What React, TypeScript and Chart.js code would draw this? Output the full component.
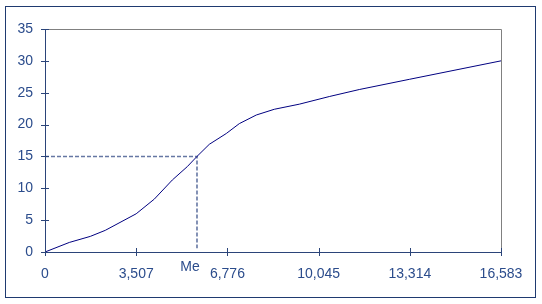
import React, { useEffect, useRef } from "react";
import { Chart, registerables } from "chart.js";

Chart.register(...registerables);

// X axis: tick positions (data units) and their printed labels
const tickValues = [238, 3507, 6776, 10045, 13314, 16583];
const tickLabels = ["0", "3,507", "6,776", "10,045", "13,314", "16,583"];
// Y axis ticks
const yTickValues = [0, 5, 10, 15, 20, 25, 30, 35];

// Cumulative curve (ogive)
const curveX = [238, 1109, 1862, 2399, 3507, 4156, 4801, 5339, 5686, 6127, 6737, 7203, 7812, 8457, 9353, 10428, 11504, 13296, 16583];
const curveY = [0, 1.5, 2.45, 3.4, 6.0, 8.3, 11.3, 13.4, 15.0, 16.9, 18.6, 20.15, 21.5, 22.4, 23.2, 24.4, 25.5, 27.1, 30];

// Median guide
const medianX = 5686;
const medianY = 15;
const medianLabel = "Me";

const AXIS = "#2B4479";
const TEXT = "#2B4C8C";
const FONT = "'Liberation Sans', Arial, sans-serif";

const decorPlugin = {
  id: "decor",
  afterDraw(chart: any) {
    const { ctx, chartArea } = chart;
    const xs = chart.scales.x;
    const ys = chart.scales.y;
    const L = chartArea.left, R = chartArea.right, T = chartArea.top, B = chartArea.bottom;
    ctx.save();
    // outer frame
    ctx.strokeStyle = "#1F3A70";
    ctx.lineWidth = 1;
    ctx.strokeRect(5.5, 6.5, 530, 291);
    // top/right gray border
    ctx.strokeStyle = "#808080";
    ctx.beginPath();
    ctx.moveTo(L + 0.5, T + 0.5);
    ctx.lineTo(R + 0.5, T + 0.5);
    ctx.lineTo(R + 0.5, B + 0.5);
    ctx.stroke();
    // axes
    ctx.strokeStyle = AXIS;
    ctx.beginPath();
    ctx.moveTo(L + 0.5, T + 0.5);
    ctx.lineTo(L + 0.5, B + 0.5);
    ctx.lineTo(R + 0.5, B + 0.5);
    ctx.stroke();
    // ticks (crossing)
    ctx.beginPath();
    yTickValues.forEach((v) => {
      const y = Math.round(ys.getPixelForValue(v)) + 0.5;
      ctx.moveTo(L - 4, y);
      ctx.lineTo(L + 4, y);
    });
    tickValues.forEach((v) => {
      const x = Math.round(xs.getPixelForValue(v)) + 0.5;
      ctx.moveTo(x, B - 4);
      ctx.lineTo(x, B + 4);
    });
    ctx.stroke();
    // median label
    ctx.fillStyle = TEXT;
    ctx.font = `14px ${FONT}`;
    ctx.textAlign = "center";
    ctx.textBaseline = "middle";
    ctx.fillText(medianLabel, xs.getPixelForValue(medianX) - 7, B + 15);
    ctx.restore();
  },
};

export default function App() {
  const ref = useRef<HTMLCanvasElement | null>(null);
  useEffect(() => {
    if (!ref.current) return;
    const chart = new Chart(ref.current, {
      type: "line",
      data: {
        datasets: [
          {
            data: curveX.map((x, i) => ({ x, y: curveY[i] })),
            borderColor: "#000080",
            borderWidth: 1,
            pointRadius: 0,
            tension: 0,
            fill: false,
          },
          {
            data: [
              { x: tickValues[0], y: medianY },
              { x: medianX, y: medianY },
              { x: medianX, y: 0.6 },
            ],
            borderColor: "#6677A3",
            borderWidth: 1.6,
            borderDash: [4, 2],
            pointRadius: 0,
            tension: 0,
            fill: false,
          },
        ],
      },
      options: {
        animation: false,
        responsive: false,
        events: [],
        layout: { padding: { left: 0, top: 29, right: 41, bottom: 0 } },
        plugins: { legend: { display: false }, tooltip: { enabled: false } },
        scales: {
          x: {
            type: "linear",
            min: tickValues[0],
            max: tickValues[tickValues.length - 1],
            afterBuildTicks: (s: any) => {
              s.ticks = tickValues.map((v) => ({ value: v }));
            },
            afterFit: (s: any) => {
              s.height = 52;
            },
            grid: { display: false, drawTicks: false },
            border: { display: false },
            ticks: {
              autoSkip: false,
              maxRotation: 0,
              padding: 14,
              color: TEXT,
              font: { family: FONT, size: 14 },
              callback: (_v: any, i: number) => tickLabels[i],
            },
          },
          y: {
            type: "linear",
            min: 0,
            max: 35,
            afterBuildTicks: (s: any) => {
              s.ticks = yTickValues.map((v) => ({ value: v }));
            },
            afterFit: (s: any) => {
              s.width = 45;
            },
            grid: { display: false, drawTicks: false },
            border: { display: false },
            ticks: {
              padding: 12,
              color: TEXT,
              font: { family: FONT, size: 14 },
              callback: (v: any) => String(v),
            },
          },
        },
      },
      plugins: [decorPlugin],
    });
    return () => chart.destroy();
  }, []);
  return (
    <div style={{ position: "absolute", left: 0, top: 0, width: 542, height: 304, background: "#fff" }}>
      <canvas ref={ref} width={542} height={304} style={{ display: "block" }} />
    </div>
  );
}
